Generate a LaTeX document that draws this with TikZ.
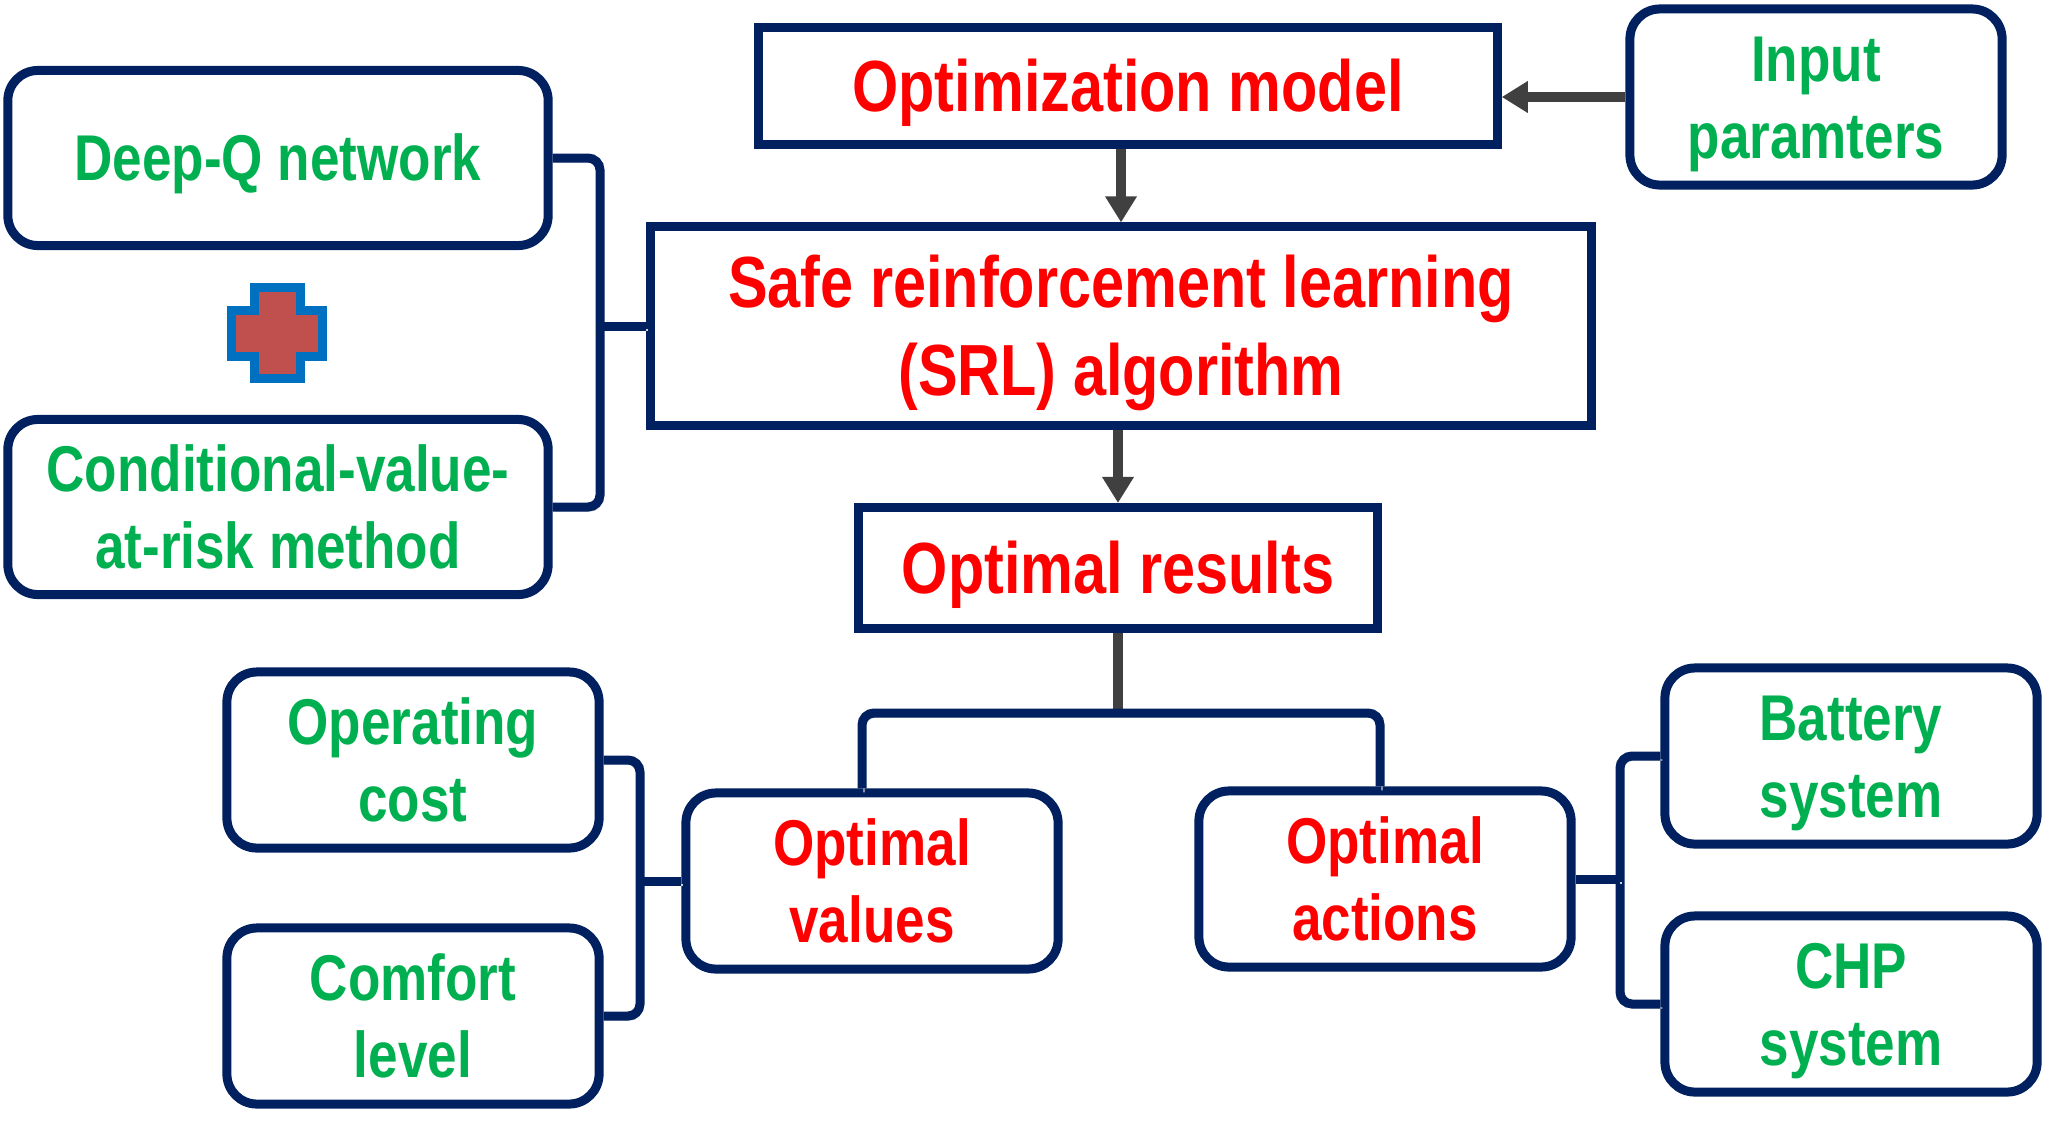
\documentclass[tikz,border=0pt]{standalone}
\usepackage{fontspec}
\setmainfont{Liberation Sans}[FakeStretch=0.82]
\usetikzlibrary{arrows.meta}
\definecolor{navy}{HTML}{002060}
\definecolor{redtxt}{HTML}{FF0000}
\definecolor{greentxt}{HTML}{00B050}
\definecolor{arrowgray}{HTML}{404040}
\definecolor{crossred}{HTML}{C0504D}
\definecolor{crossblue}{HTML}{0070C0}

\begin{document}
\begin{tikzpicture}[x=0.01cm, y=-0.01cm,
  every node/.style = {draw=navy, line width=0.09cm, align=center,
    inner sep=0pt, font=\bfseries, text depth=0pt},
  stage/.style = {text=redtxt, font=\fontsize{20.6}{25}\selectfont\bfseries,
    text height=14.5pt},
  leaf/.style = {rounded corners=0.3cm, text=greentxt,
    minimum width=3.72cm, minimum height=1.76cm,
    font=\fontsize{18.4}{22}\selectfont\bfseries, text height=35pt},
  result/.style = {leaf, text=redtxt},
  flow/.style = {draw=arrowgray, line width=0.1cm,
    -{Triangle[length=0.26cm, width=0.3cm]}},
  brace/.style = {draw=navy, line width=0.09cm, rounded corners=0.12cm,
    preaction={draw=black!18, transform canvas={xshift=0.02cm, yshift=-0.04cm}}}]
  \useasboundingbox (0,0) rectangle (2046,1133);

  % main chain
  \node[stage, minimum width=7.38cm, minimum height=1.16cm] (om) at (1128,86) {Optimization model};
  \node[leaf] (inp) at (1816,97) {Input\\paramters};
  \node[stage, minimum width=9.40cm, minimum height=1.98cm, text height=39.5pt] (srl) at (1121,326)
    {Safe reinforcement learning\\(SRL) algorithm};
  \node[stage, minimum width=5.18cm, minimum height=1.21cm] (res) at (1118,568) {Optimal results};

  % methods
  \node[leaf, minimum width=5.40cm, minimum height=1.75cm, text height=13pt] (dqn) at (278,158) {Deep-Q network};
  \node[leaf, minimum width=5.40cm, minimum height=1.75cm] (cvar) at (278,507)
    {Conditional-value-\\at-risk method};
  \draw[crossblue, fill=crossred, line width=0.09cm, shift={(277,333)}]
    (-23,-45.5) -- (23,-45.5) -- (23,-23) -- (45.5,-23) -- (45.5,23) -- (23,23)
    -- (23,45.5) -- (-23,45.5) -- (-23,23) -- (-45.5,23) -- (-45.5,-23) -- (-23,-23) -- cycle;

  % results
  \node[leaf] (opc) at (413,760) {Operating\\cost};
  \node[leaf] (cmf) at (413,1016) {Comfort\\level};
  \node[result] (ov) at (872,881) {Optimal\\values};
  \node[result] (oa) at (1385,879) {Optimal\\actions};
  \node[leaf] (bat) at (1851,756) {Battery\\system};
  \node[leaf] (chp) at (1851,1004) {CHP\\system};

  % connectors
  \draw[flow] (inp.west) -- (inp.west -| om.east);
  \draw[flow] (om.south -| srl.north) -- (srl.north);
  \draw[flow] (srl.south -| res.north) -- (res.north);
  \coordinate (fork) at (1118,713);
  \draw[draw=arrowgray, line width=0.1cm] (res.south) -- (fork);
  \draw[brace] ([xshift=-0.1cm]ov.north) |- (fork) -| ([xshift=-0.05cm]oa.north);

  \coordinate (lb) at (600,326);
  \coordinate (vb) at (640,881);
  \coordinate (ab) at (1620,879);
  \draw[brace] (dqn.east) -| (lb) |- (cvar.east);
  \draw[brace] (lb) -- (srl.west);
  \draw[brace] (opc.east) -| (vb) |- (cmf.east);
  \draw[brace] (vb) -- (ov.west);
  \draw[brace] (bat.west) -| (ab) |- (chp.west);
  \draw[brace] (ab) -- (oa.east);
\end{tikzpicture}
\end{document}
